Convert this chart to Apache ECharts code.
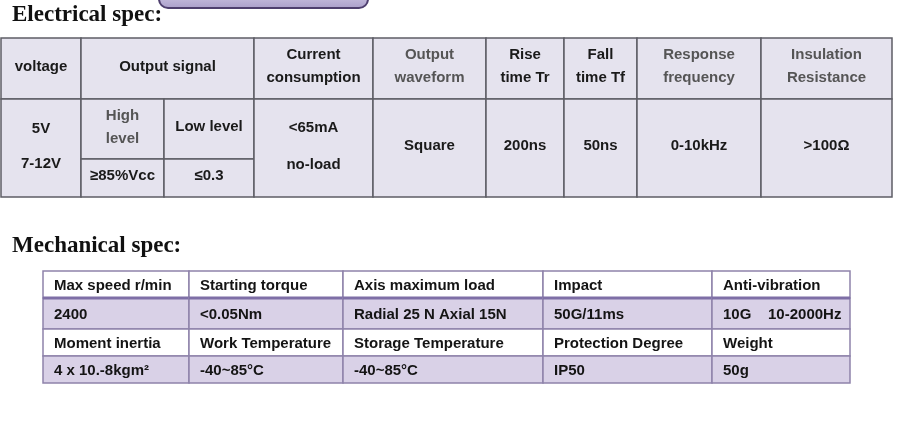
<!DOCTYPE html>
<html>
<head>
<meta charset="utf-8">
<script src="https://cdn.jsdelivr.net/npm/echarts@6/dist/echarts.min.js"></script>
<style>html,body{margin:0;padding:0;background:#fff;}#c{width:915px;height:436px;}</style>
</head>
<body>
<div id="c"></div>
<script>
// ---- Data (text content) ----
const sectionTitles = ["Electrical spec:", "Mechanical spec:"];
const elecHeaders = ["voltage", "Output signal", "Current\nconsumption", "Output\nwaveform", "Rise\ntime Tr", "Fall\ntime Tf", "Response\nfrequency", "Insulation\nResistance"];
const voltageValues = ["5V", "7-12V"];
const signalLevels = ["High\nlevel", "Low level"];
const signalValues = ["≥85%Vcc", "≤0.3"];
const currentValues = ["<65mA", "no-load"];
const otherElecValues = ["Square", "200ns", "50ns", "0-10kHz", ">100Ω"];

const mechHeaders1 = ["Max speed r/min", "Starting torque", "Axis maximum load", "Impact", "Anti-vibration"];
const mechValues1 = ["2400", "<0.05Nm", "Radial 25 N Axial 15N", "50G/11ms", "10G    10-2000Hz"];
const mechHeaders2 = ["Moment inertia", "Work Temperature", "Storage Temperature", "Protection Degree", "Weight"];
const mechValues2 = ["4 x 10.-8kgm²", "-40~85°C", "-40~85°C", "IP50", "50g"];

// ---- Layout (positions / styles) ----
const elecCols = [1, 81, 164, 254, 373, 486, 564, 637, 761, 892];
const elecRows = [38, 99, 159, 197];
const mechCols = [43, 189, 343, 543, 712, 850];
const mechRows = [271, 298, 329, 356, 383];
const greyHeaderIdx = [3, 6, 7];
const FONT = 'bold 15px "Liberation Sans", Arial, sans-serif';

// Electrical table cells
const elecCells = [];
const headerSpans = [[0,1],[1,3],[3,4],[4,5],[5,6],[6,7],[7,8],[8,9]];
elecHeaders.forEach((t, i) => {
  elecCells.push({c0: headerSpans[i][0], c1: headerSpans[i][1], r0: 0, r1: 1, text: t,
    color: greyHeaderIdx.includes(i) ? '#555' : '#1a1a1a', lh: 23});
});
elecCells.push({c0:0, c1:1, r0:1, r1:3, text: voltageValues.join('\n'), color:'#1a1a1a', lh: 35});
elecCells.push({c0:1, c1:2, r0:1, r1:2, text: signalLevels[0], color:'#555', lh: 23});
elecCells.push({c0:2, c1:3, r0:1, r1:2, text: signalLevels[1], color:'#1a1a1a', lh: 23});
elecCells.push({c0:1, c1:2, r0:2, r1:3, text: signalValues[0], color:'#1a1a1a', lh: 23});
elecCells.push({c0:2, c1:3, r0:2, r1:3, text: signalValues[1], color:'#1a1a1a', lh: 23});
elecCells.push({c0:3, c1:4, r0:1, r1:3, text: currentValues.join('\n'), color:'#1a1a1a', lh: 37});
otherElecValues.forEach((t, i) => {
  elecCells.push({c0: 4 + i, c1: 5 + i, r0: 1, r1: 3, text: t, color:'#1a1a1a', lh: 23});
});

// Mechanical table cells
const mechCells = [];
[mechHeaders1, mechValues1, mechHeaders2, mechValues2].forEach((row, r) => {
  row.forEach((t, c) => {
    mechCells.push({c0: c, c1: c + 1, r0: r, r1: r + 1, text: t, color: '#141414', striped: r % 2 === 1});
  });
});

const elecData = elecCells.map((c, i) => [elecCols[c.c0], elecRows[c.r0], elecCols[c.c1], elecRows[c.r1], i]);
const mechData = mechCells.map((c, i) => [mechCols[c.c0], mechRows[c.r0], mechCols[c.c1], mechRows[c.r1], i]);

function elecRender(params, api) {
  const cell = elecCells[api.value(4)];
  const p0 = api.coord([api.value(0), api.value(1)]);
  const p1 = api.coord([api.value(2), api.value(3)]);
  return {
    type: 'group',
    children: [
      {type: 'rect', shape: {x: p0[0], y: p0[1], width: p1[0] - p0[0], height: p1[1] - p0[1]},
       style: {fill: '#e5e3ee', stroke: '#5e5e66', lineWidth: 1.5}},
      {type: 'text', style: {text: cell.text, x: (p0[0] + p1[0]) / 2, y: (p0[1] + p1[1]) / 2 - 2,
        align: 'center', verticalAlign: 'middle', font: FONT, fill: cell.color, lineHeight: cell.lh}}
    ]
  };
}
function mechRender(params, api) {
  const cell = mechCells[api.value(4)];
  const p0 = api.coord([api.value(0), api.value(1)]);
  const p1 = api.coord([api.value(2), api.value(3)]);
  const children = [
    {type: 'rect', shape: {x: p0[0], y: p0[1], width: p1[0] - p0[0], height: p1[1] - p0[1]},
     style: {fill: cell.striped ? '#d9d1e7' : '#ffffff', stroke: '#8e83ab', lineWidth: 1.5}},
    {type: 'text', style: {text: cell.text, x: p0[0] + 11, y: (p0[1] + p1[1]) / 2 + 1,
      align: 'left', verticalAlign: 'middle', font: FONT, fill: cell.color}}
  ];
  if (cell.r0 === 1) {
    children.push({type: 'line', shape: {x1: p0[0], y1: p0[1], x2: p1[0], y2: p0[1]},
      style: {stroke: '#7e6fa6', lineWidth: 3}});
  }
  return {type: 'group', children};
}

const chart = echarts.init(document.getElementById('c'), null, {renderer: 'canvas'});
chart.setOption({
  backgroundColor: '#ffffff',
  animation: false,
  title: [
    {text: sectionTitles[0], left: 12, top: 4, padding: 0,
     textStyle: {fontFamily: '"Liberation Serif", "Times New Roman", serif', fontSize: 23, fontWeight: 'bold', color: '#111'}},
    {text: sectionTitles[1], left: 12, top: 235, padding: 0,
     textStyle: {fontFamily: '"Liberation Serif", "Times New Roman", serif', fontSize: 23, fontWeight: 'bold', color: '#111'}}
  ],
  graphic: [
    {type: 'rect', left: 158, top: -12, shape: {width: 209, height: 19, r: 9},
     style: {fill: new echarts.graphic.LinearGradient(0, 0, 0, 1, [{offset: 0, color: '#d8d2ea'}, {offset: 1, color: '#a99dc9'}]),
       stroke: '#4e3f6e', lineWidth: 2}}
  ],
  grid: {left: 0, right: 0, top: 0, bottom: 0},
  xAxis: {type: 'value', min: 0, max: 915, show: false},
  yAxis: {type: 'value', min: 0, max: 436, inverse: true, show: false},
  series: [
    {type: 'custom', renderItem: elecRender, data: elecData, encode: {x: [0, 2], y: [1, 3]}, clip: false, silent: true},
    {type: 'custom', renderItem: mechRender, data: mechData, encode: {x: [0, 2], y: [1, 3]}, clip: false, silent: true}
  ]
});
</script>
</body>
</html>
